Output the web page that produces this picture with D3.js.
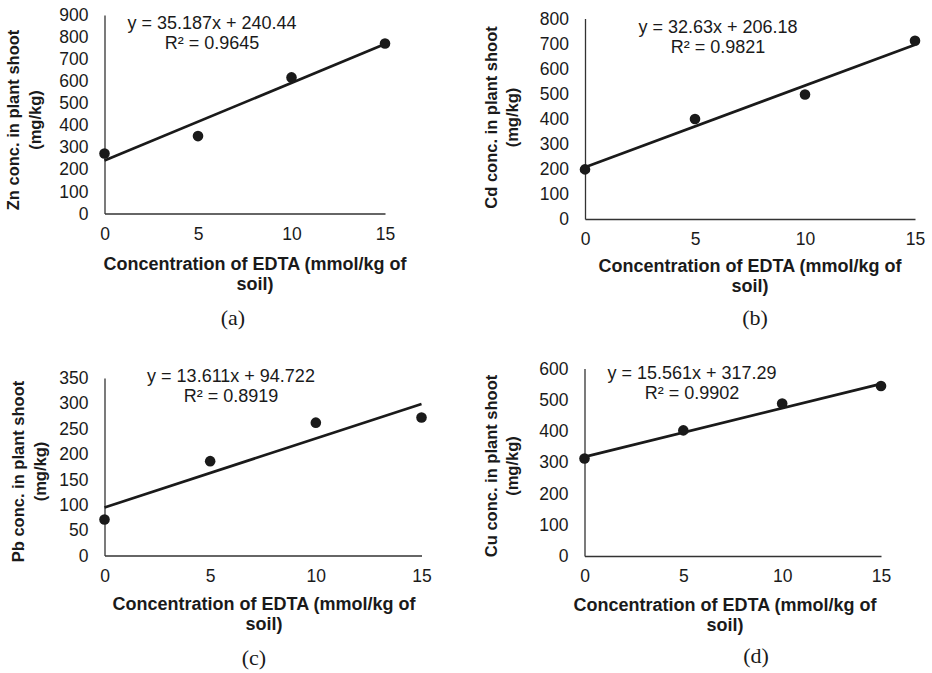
<!DOCTYPE html>
<html>
<head>
<meta charset="utf-8">
<script src="https://cdn.jsdelivr.net/npm/d3@7"></script>
<style>
  body { margin: 0; background: #fff; }
  svg { display: block; }
</style>
</head>
<body>
<div id="chart"></div>
<script>
// dane
const edta = [0, 5, 10, 15];
const xTicks = [0, 5, 10, 15];
const znShoot = [272, 351, 617, 771];
const cdShoot = [198, 399, 497, 711];
const pbShoot = [71, 186, 262, 272];
const cuShoot = [312, 402, 488, 544];
const metals = ["Zn", "Cd", "Pb", "Cu"];
const panelTags = ["(a)", "(b)", "(c)", "(d)"];
const slopes = [35.187, 32.63, 13.611, 15.561];
const intercepts = [240.44, 206.18, 94.722, 317.29];
const r2Labels = ["0.9645", "0.9821", "0.8919", "0.9902"];
const yMaxes = [900, 800, 350, 600];
const ySteps = [100, 100, 50, 100];
const series = [znShoot, cdShoot, pbShoot, cuShoot];

// układ paneli (piksele)
const layout = [
  {x0: 104.5, x1: 385, yTop: 15, yBot: 213.5, ytx: [19, 41], ytc: 120, xtc: 255, xty: 270, eqx: 212, eqy: 29, tagx: 233, tagy: 325},
  {x0: 585, x1: 915, yTop: 18.5, yBot: 219, ytx: [497, 518], ytc: 117.5, xtc: 750, xty: 272, eqx: 718, eqy: 33, tagx: 755, tagy: 325},
  {x0: 104.5, x1: 421.5, yTop: 378, yBot: 555.5, ytx: [24, 45.5], ytc: 471.5, xtc: 264, xty: 609.5, eqx: 231, eqy: 381.5, tagx: 254, tagy: 665},
  {x0: 584.5, x1: 881, yTop: 368.5, yBot: 556, ytx: [497, 518], ytc: 466, xtc: 725, xty: 611, eqx: 692, eqy: 378.5, tagx: 756, tagy: 663}
];

const ink = "#1a1a1a";
const svg = d3.select("#chart").append("svg")
  .attr("width", 932)
  .attr("height", 673)
  .style("font-family", "'Liberation Sans', Arial, sans-serif");

metals.forEach((m, i) => {
  const L = layout[i];
  const vals = series[i];
  const x = d3.scaleLinear().domain([0, 15]).range([L.x0, L.x1]);
  const y = d3.scaleLinear().domain([0, yMaxes[i]]).range([L.yBot, L.yTop]);
  const g = svg.append("g");

  // oś Y
  const yAxis = g.append("g")
    .attr("transform", `translate(${L.x0},0)`)
    .call(d3.axisLeft(y).tickValues(d3.range(0, yMaxes[i] + 1, ySteps[i])).tickSize(0).tickPadding(16));
  yAxis.select(".domain").attr("stroke", "#333").attr("stroke-width", 1.3);
  yAxis.selectAll("text").attr("font-size", "17.5px").attr("fill", ink).attr("font-family", null);

  // oś X
  const xAxis = g.append("g")
    .attr("transform", `translate(0,${L.yBot})`)
    .call(d3.axisBottom(x).tickValues(xTicks).tickSize(0).tickPadding(14));
  xAxis.select(".domain").attr("stroke", "#333").attr("stroke-width", 1.3);
  xAxis.selectAll("text").attr("font-size", "17.5px").attr("fill", ink).attr("font-family", null);

  // linia trendu
  g.append("line")
    .attr("x1", x(0)).attr("y1", y(intercepts[i]))
    .attr("x2", x(15)).attr("y2", y(intercepts[i] + slopes[i] * 15))
    .attr("stroke", ink)
    .attr("stroke-width", 2.7);

  // punkty
  g.selectAll("circle")
    .data(edta.map((e, k) => ({e, v: vals[k]})))
    .enter()
    .append("circle")
    .attr("cx", d => x(d.e))
    .attr("cy", d => y(d.v))
    .attr("r", 5.3)
    .attr("fill", ink);

  // równanie
  const eq = g.append("text")
    .attr("text-anchor", "middle")
    .attr("font-size", "18px")
    .attr("fill", ink);
  eq.append("tspan").attr("x", L.eqx).attr("y", L.eqy)
    .text(`y = ${slopes[i]}x + ${intercepts[i]}`);
  eq.append("tspan").attr("x", L.eqx).attr("y", L.eqy + 20)
    .text(`R² = ${r2Labels[i]}`);

  // tytuł osi Y
  const yt = g.append("text")
    .attr("transform", `rotate(-90)`)
    .attr("text-anchor", "middle")
    .attr("font-size", "16.5px")
    .attr("font-weight", "bold")
    .attr("fill", ink);
  yt.append("tspan").attr("x", -L.ytc).attr("y", L.ytx[0]).text(`${m} conc. in plant shoot`);
  yt.append("tspan").attr("x", -L.ytc).attr("y", L.ytx[1]).text("(mg/kg)");

  // tytuł osi X
  const xt = g.append("text")
    .attr("text-anchor", "middle")
    .attr("font-size", "18px")
    .attr("font-weight", "bold")
    .attr("fill", ink);
  xt.append("tspan").attr("x", L.xtc).attr("y", L.xty).text("Concentration of EDTA (mmol/kg of");
  xt.append("tspan").attr("x", L.xtc).attr("y", L.xty + 20).text("soil)");

  // etykieta panelu
  g.append("text")
    .attr("x", L.tagx).attr("y", L.tagy)
    .attr("text-anchor", "middle")
    .attr("font-family", "'Liberation Serif', 'Times New Roman', serif")
    .attr("font-size", "22px")
    .attr("fill", ink)
    .text(panelTags[i]);
});
</script>
</body>
</html>
